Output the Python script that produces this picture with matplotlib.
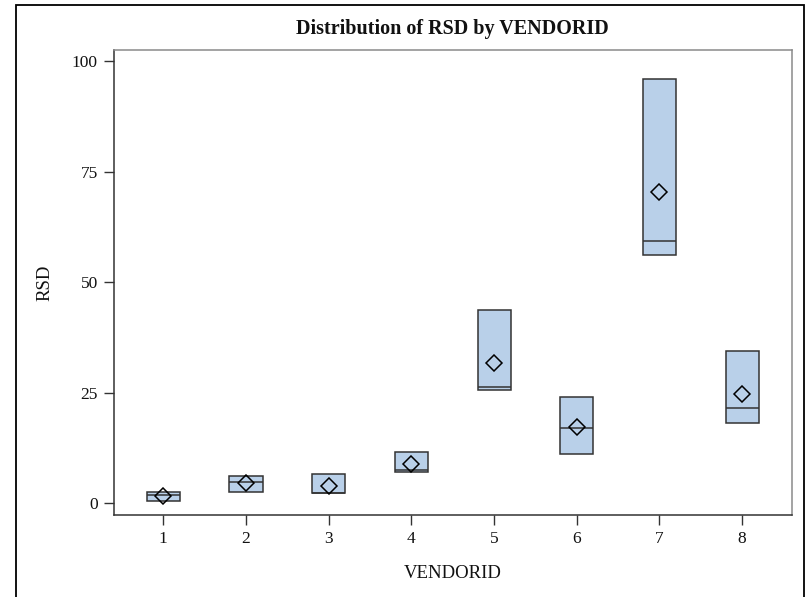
import matplotlib
matplotlib.use("Agg")
import matplotlib.pyplot as plt
from matplotlib.patches import Rectangle

# Data (summary statistics)
vendor_ids = [1, 2, 3, 4, 5, 6, 7, 8]
q1_vals = [0.4, 2.5, 2.3, 7.0, 25.6, 11.1, 56.2, 18.2]
median_vals = [1.9, 4.8, 2.3, 7.5, 26.2, 17.0, 59.3, 21.6]
q3_vals = [2.5, 6.2, 6.7, 11.6, 43.7, 24.1, 96.0, 34.5]
mean_vals = [1.6, 4.5, 3.8, 8.8, 31.8, 17.3, 70.4, 24.7]
y_ticks = [0, 25, 50, 75, 100]

W, H = 807, 597
fig = plt.figure(figsize=(W / 100, H / 100), dpi=100)
plt.rcParams['font.family'] = ['Liberation Serif', 'DejaVu Serif']

# outer frame
fig.patches.append(Rectangle((15.5 / W, -0.02), (804 - 15.5) / W, 1 - 5.3 / H + 0.02,
                             transform=fig.transFigure, fill=False,
                             edgecolor='black', linewidth=1.3, zorder=0))

ax_l, ax_r, ax_t, ax_b = 113.7, 791.7, 50, 514.7
ax = fig.add_axes([ax_l / W, (H - ax_b) / H, (ax_r - ax_l) / W, (ax_b - ax_t) / H])

stats = []
for v, lo, med, hi, mn in zip(vendor_ids, q1_vals, median_vals, q3_vals, mean_vals):
    stats.append(dict(label=str(v), q1=lo, med=med, q3=hi, mean=mn,
                      whislo=lo, whishi=hi, fliers=[]))

edge = '#333333'
ax.bxp(stats, positions=vendor_ids, widths=0.4, patch_artist=True,
       showmeans=True, showcaps=False, showfliers=False,
       boxprops=dict(facecolor='#B9D0E9', edgecolor=edge, linewidth=1.1),
       medianprops=dict(color=edge, linewidth=1.1),
       whiskerprops=dict(color=edge, linewidth=0),
       meanprops=dict(marker='D', markerfacecolor='none', markeredgecolor='black',
                      markersize=8, markeredgewidth=1.1))

ax.set_xlim(0.4, 8.6)
ax.set_ylim(-2.6, 102.6)
ax.set_yticks(y_ticks)
ax.set_xticks(vendor_ids)
ax.set_xticklabels([str(v) for v in vendor_ids])

for s in ['left', 'bottom']:
    ax.spines[s].set_color('#333333')
    ax.spines[s].set_linewidth(1.1)
for s in ['top', 'right']:
    ax.spines[s].set_color('#8a8a8a')
    ax.spines[s].set_linewidth(1.1)

ax.tick_params(axis='both', direction='out', length=7, width=1.0, color='#333333',
               labelsize=12.5, pad=4.5)
for lab in ax.get_xticklabels() + ax.get_yticklabels():
    lab.set_color('#111111')

ax.set_xlabel('VENDORID', fontsize=13.5, labelpad=13, color='#111111')
ax.set_ylabel('RSD', fontsize=13.5, labelpad=13, color='#111111')
ax.set_title('Distribution of RSD by VENDORID', fontsize=14.5, fontweight='bold',
             pad=11.5, color='#111111')

fig.savefig('out.png', dpi=100)
